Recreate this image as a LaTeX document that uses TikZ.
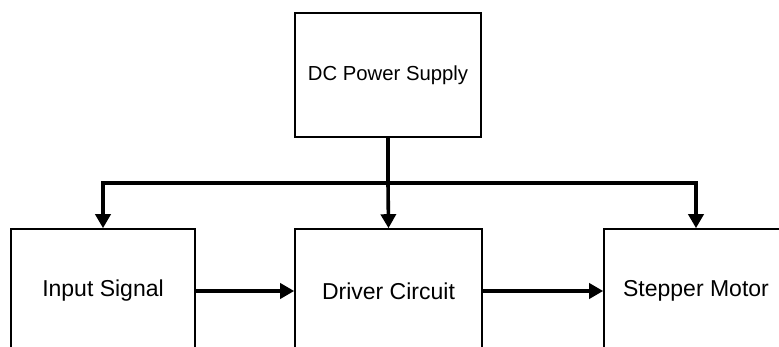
\documentclass[tikz,border=0pt]{standalone}
\usepackage{fontspec}
\setmainfont{Liberation Sans}
\usetikzlibrary{arrows.meta}
\begin{document}
\begin{tikzpicture}[x=1pt,y=-1pt,
  blk/.style={draw=black,line width=1.6pt,minimum height=124pt,inner sep=0pt,font=\fontsize{23}{27}\selectfont},
  pw/.style={line width=3.6pt},
  arr/.style={pw,-{Triangle[width=15pt,length=14pt]}}]
\useasboundingbox (0,0) rectangle (779,347);
\clip (0,0) rectangle (779,347);
\node[blk,minimum width=186pt,font=\fontsize{20.3}{24}\selectfont] (dc) at (388,75) {DC Power Supply};
\node[blk,minimum width=184pt] (in) at (103,291) {Input Signal};
\node[blk,minimum width=187pt] (dr) at (388.5,291) {Driver Circuit};
\node[blk,minimum width=184pt] (sm) at (696,291) {Stepper Motor};
\coordinate (j) at (388,183);
\draw[pw] (dc.south) -- (j);
\draw[arr] (j) -| (in.north);
\draw[arr] (j) -- (dr.north);
\draw[arr] (j) -| (sm.north);
\draw[arr] (in.east) -- (dr.west);
\draw[arr] (dr.east) -- (sm.west);
\end{tikzpicture}
\end{document}
